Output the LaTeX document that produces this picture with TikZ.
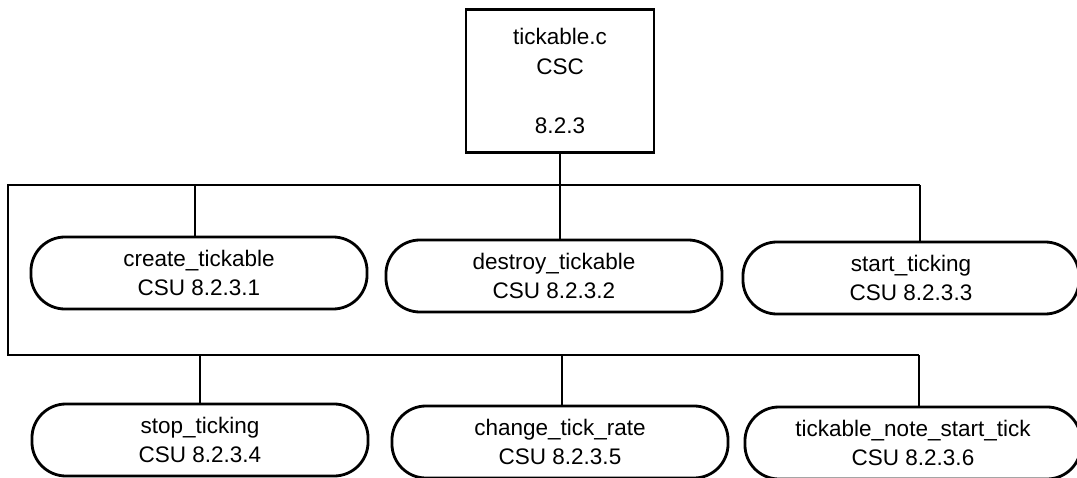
\documentclass[tikz,border=0pt]{standalone}
\usepackage{fontspec}
\setmainfont{Liberation Sans}
\usetikzlibrary{positioning}
\tikzset{
    cscbox/.style = {
        draw, rectangle, line width=2pt, minimum width=4.7cm, minimum height=3.575cm,
        align=center, font=\fontsize{16}{21}\selectfont
    },
    csubox/.style = {
        draw, rectangle, rounded corners=0.85cm, line width=2pt, minimum width=8.4cm,
        minimum height=1.8cm, align=center, font=\fontsize{16}{21}\selectfont
    },
    bus/.style = {line width=2pt}
}

\begin{document}
\begin{tikzpicture}[x=0.025cm, y=-0.025cm]
        \useasboundingbox (0,0) rectangle (1077,478);
        % Place the blocks
        \node[cscbox] (csc) at (560,81) {tickable.c\\CSC\\[21pt]8.2.3};
        \node[csubox] (create) at (199,273) {create\_tickable\\CSU 8.2.3.1};
        \node[csubox] (destroy) at (554,276) {destroy\_tickable\\CSU 8.2.3.2};
        \node[csubox] (start) at (911,278) {start\_ticking\\CSU 8.2.3.3};
        \node[csubox] (stop) at (200,440) {stop\_ticking\\CSU 8.2.3.4};
        \node[csubox] (change) at (560,442) {change\_tick\_rate\\CSU 8.2.3.5};
        \node[csubox] (note) at (913,443) {tickable\_note\_start\_tick\\CSU 8.2.3.6};

        % Bus lines
        \coordinate (tl) at (8,185);
        \coordinate (bl) at (8,355);
        \coordinate (tr) at ([xshift=0.225cm] start.north |- tl);
        \coordinate (br) at ([xshift=0.15cm] note.north |- bl);
        \draw[bus] (csc.south) -- (csc.south |- tl);
        \draw[bus] (tr) -- (tl) -- (bl) -- (br);
        \foreach \n/\dx in {create/-0.1, destroy/0.15, start/0.225}{
            \draw[bus] ([xshift=\dx cm] \n.north) -- ([xshift=\dx cm] \n.north |- tl);
        }
        \foreach \n/\dx in {stop/0, change/0.05, note/0.15}{
            \draw[bus] ([xshift=\dx cm] \n.north) -- ([xshift=\dx cm] \n.north |- bl);
        }
\end{tikzpicture}
\end{document}
